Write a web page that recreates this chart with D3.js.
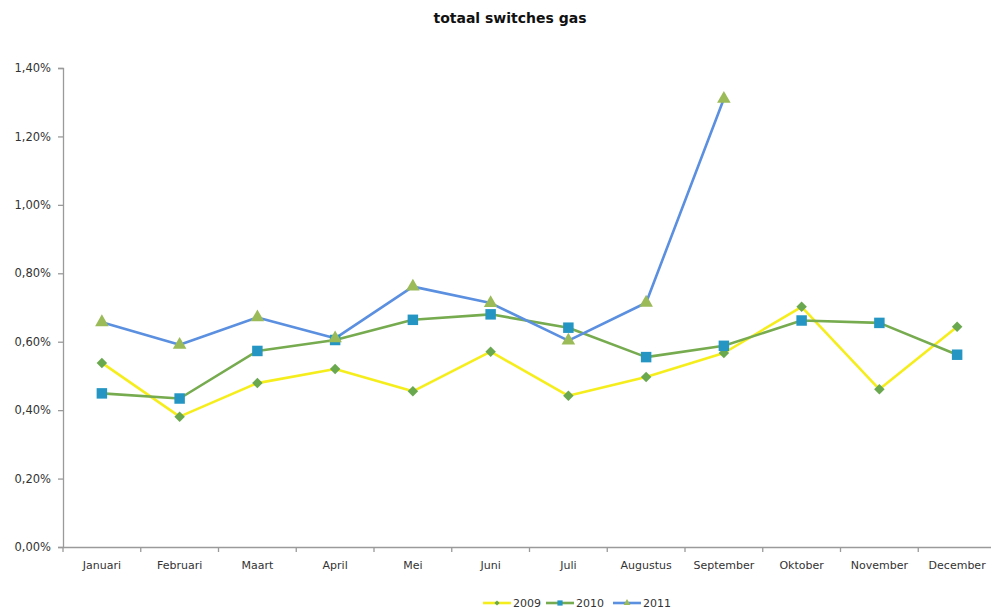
<!DOCTYPE html>
<html><head><meta charset="utf-8">
<script src="https://cdn.jsdelivr.net/npm/d3@7"></script>
<style>body{margin:0;background:#fff}svg{display:block}</style>
</head><body>
<svg id="c" width="991" height="609"></svg>
<script>
const months = ["Januari","Februari","Maart","April","Mei","Juni","Juli","Augustus","September","Oktober","November","December"];
const v2009 = [0.538,0.381,0.479,0.520,0.455,0.571,0.442,0.497,0.567,0.702,0.461,0.644];
const v2010 = [0.449,0.434,0.573,0.605,0.664,0.680,0.641,0.555,0.588,0.662,0.655,0.562];
const v2011 = [0.657,0.591,0.671,0.610,0.761,0.713,0.603,0.714,1.310,null,null,null];
const yTicks = [0,0.2,0.4,0.6,0.8,1.0,1.2,1.4];
const seriesNames = ["2009","2010","2011"];

const svg = d3.select("#c");
const font = "Tahoma, 'DejaVu Sans', Verdana, sans-serif";
const L = 63, R = 996, T = 68, B = 547;
const x = d3.scaleBand().domain(months).range([L, R]);
const y = d3.scaleLinear().domain([0, 1.4]).range([B, T]);

svg.append("text").attr("x", 510).attr("y", 23).attr("text-anchor","middle")
  .attr("font-family", font).attr("font-weight","bold").attr("font-size", 14).attr("fill","#111")
  .text("totaal switches gas");

const yAxis = svg.append("g").attr("transform", `translate(${L},0)`)
  .call(d3.axisLeft(y).tickValues(yTicks).tickSize(5).tickPadding(7)
    .tickFormat(d => d3.format(".2f")(d).replace(".", ",") + "%"));
yAxis.select(".domain").attr("stroke","#9a9a9a").attr("stroke-width",1.3);
yAxis.selectAll(".tick line").attr("stroke","#9a9a9a").attr("stroke-width",1.3);
yAxis.selectAll("text").attr("font-family", font).attr("font-size", 11.5).attr("fill","#333");

const xAxis = svg.append("g").attr("transform", `translate(0,${B})`)
  .call(d3.axisBottom(x).tickSize(0).tickPadding(14));
xAxis.select(".domain").attr("stroke","#9a9a9a").attr("stroke-width",1.3);
xAxis.selectAll("text").attr("font-family", font).attr("font-size", 11).attr("fill","#333");
xAxis.selectAll(".sep").data(months).enter().append("line").attr("class","sep")
  .attr("x1", d => x(d)).attr("x2", d => x(d)).attr("y1", 0).attr("y2", 5)
  .attr("stroke","#9a9a9a").attr("stroke-width",1.3);

const cx = m => x(m) + x.bandwidth()/2;
const series = [
  {name:"2009", vals:v2009, line:"#f5ee1c", marker:"#6aa84f", shape:d3.symbolSquare, size:55, rot:45},
  {name:"2010", vals:v2010, line:"#77ab4f", marker:"#2596c3", shape:d3.symbolSquare, size:110, rot:0},
  {name:"2011", vals:v2011, line:"#5b8fe0", marker:"#9bbb59", shape:d3.symbolTriangle, size:80, rot:0}
];
const line = d3.line().defined(d => d.v != null).x(d => cx(d.m)).y(d => y(d.v));
series.forEach(s => {
  const data = months.map((m,i) => ({m, v:s.vals[i]}));
  svg.append("path").datum(data).attr("d", line).attr("fill","none")
    .attr("stroke", s.line).attr("stroke-width", 2.6).attr("stroke-linejoin","round");
});
series.forEach(s => {
  const data = months.map((m,i) => ({m, v:s.vals[i]})).filter(d => d.v != null);
  svg.selectAll(null).data(data).enter().append("path")
    .attr("d", d3.symbol().type(s.shape).size(s.size))
    .attr("transform", d => `translate(${cx(d.m)},${y(d.v)}) rotate(${s.rot})`)
    .attr("fill", s.marker);
});

// legend
const lg = svg.append("g");
const lx = [483, 546, 613];
series.forEach((s,i) => {
  const g = lg.append("g").attr("transform", `translate(${lx[i]},603)`);
  g.append("line").attr("x1",0).attr("x2",28).attr("stroke", s.line).attr("stroke-width",2.6);
  g.append("path").attr("d", d3.symbol().type(s.shape).size(s.size*0.25)).attr("transform",`translate(14,0) rotate(${s.rot})`).attr("fill", s.marker);
  g.append("text").attr("x", 30).attr("y", 4).attr("font-family", font).attr("font-size", 11).attr("fill","#333").text(seriesNames[i]);
});
</script>
</body></html>
